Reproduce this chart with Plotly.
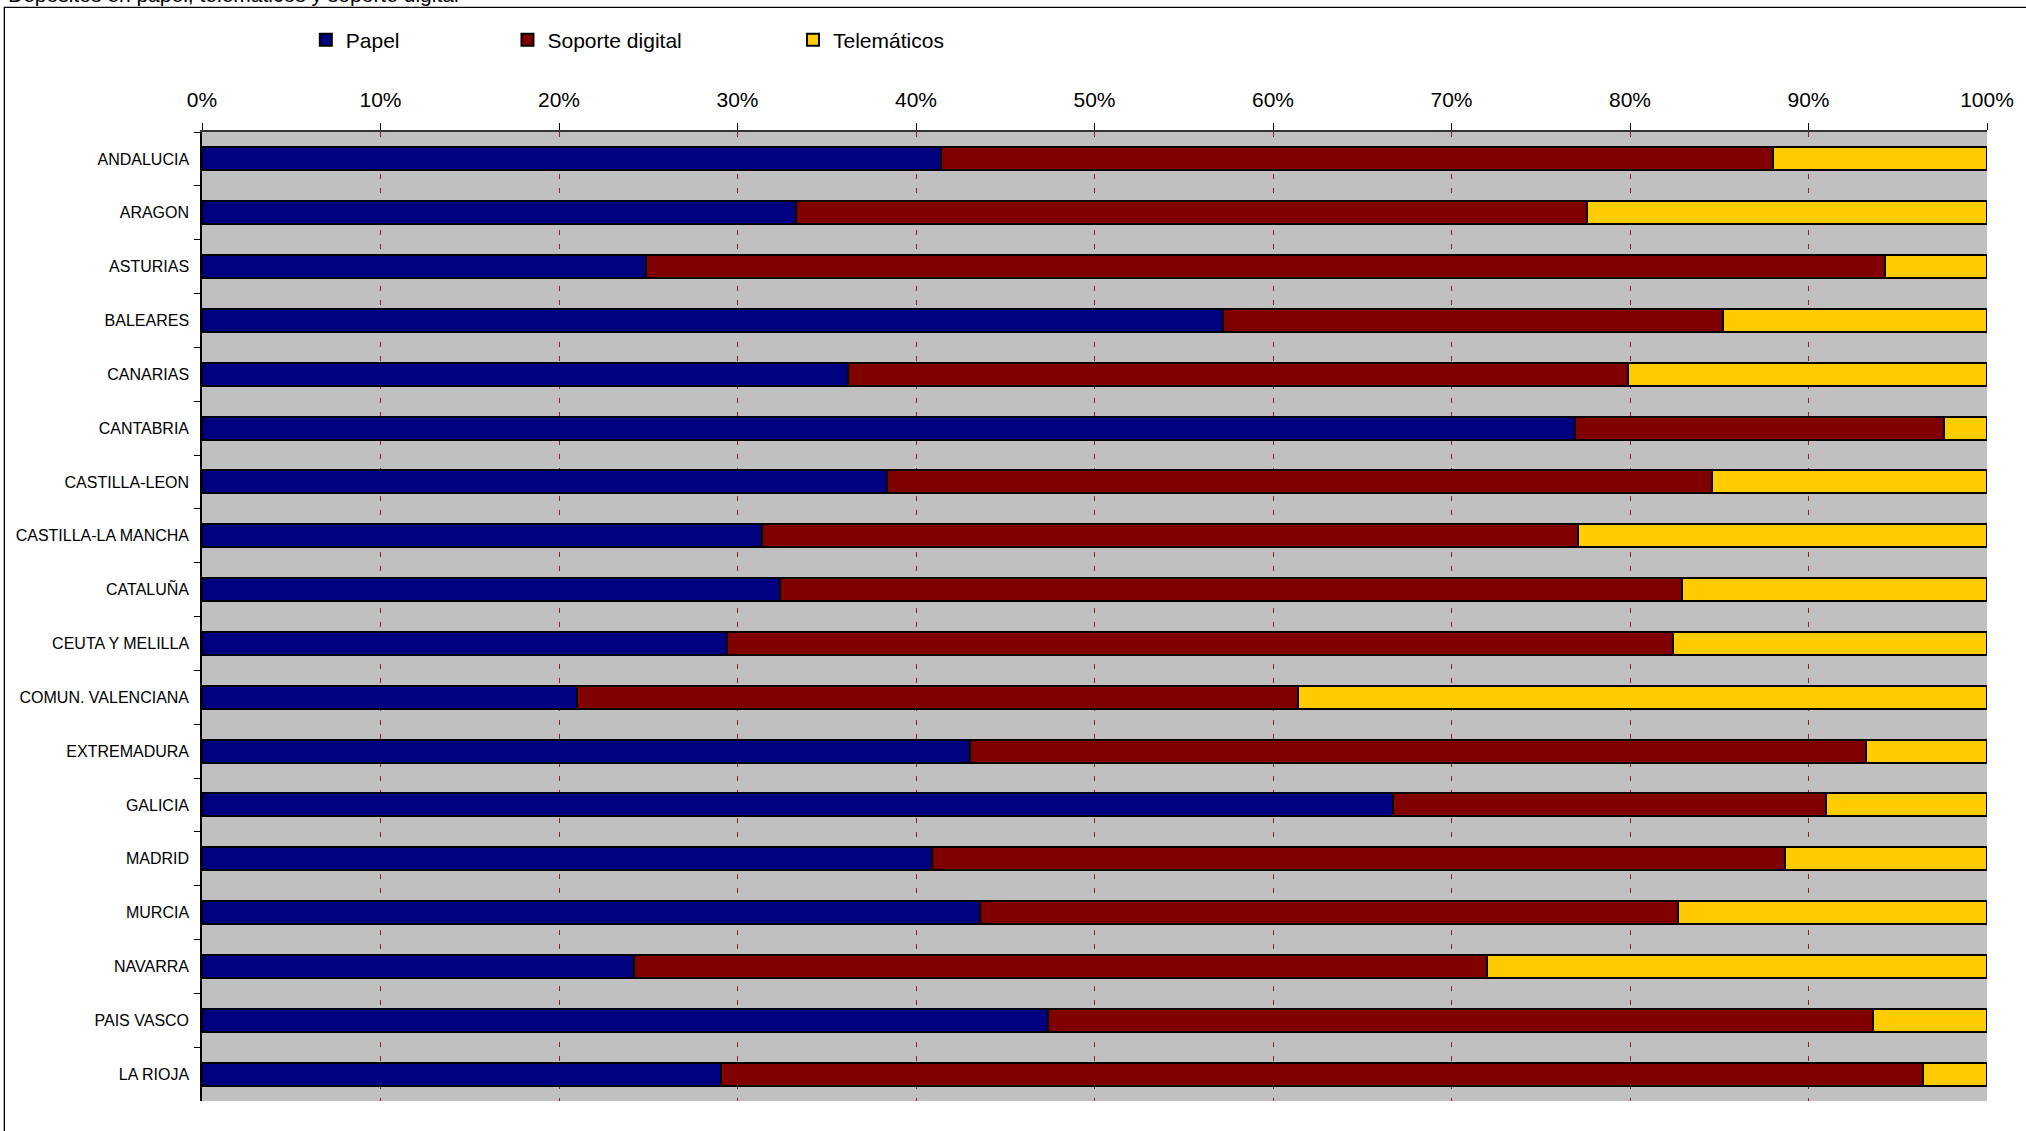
import plotly.graph_objects as go

categories = ["ANDALUCIA", "ARAGON", "ASTURIAS", "BALEARES", "CANARIAS", "CANTABRIA",
              "CASTILLA-LEON", "CASTILLA-LA MANCHA", "CATALUÑA", "CEUTA Y MELILLA",
              "COMUN. VALENCIANA", "EXTREMADURA", "GALICIA", "MADRID", "MURCIA",
              "NAVARRA", "PAIS VASCO", "LA RIOJA"]

# shares in percent
papel = [41.4, 33.3, 24.9, 57.2, 36.2, 76.9, 38.4, 31.4, 32.4, 29.4,
         21.0, 43.0, 66.7, 40.9, 43.6, 24.2, 47.4, 29.1]
soporte_digital = [46.6, 44.3, 69.4, 28.0, 43.7, 20.7, 46.2, 45.7, 50.5, 53.0,
                   40.4, 50.2, 24.3, 47.8, 39.1, 47.8, 46.2, 67.3]
telematicos = [12.0, 22.4, 5.7, 14.8, 20.1, 2.4, 15.4, 22.9, 17.1, 17.6,
               38.6, 6.8, 9.0, 11.3, 17.3, 28.0, 6.4, 3.6]

series_names = ["Papel", "Soporte digital", "Telemáticos"]
series_values = [papel, soporte_digital, telematicos]
colors = ["#000080", "#800000", "#FFCC00"]
legend_ids = ["legend", "legend2", "legend3"]

W, H = 2026, 1131
L, R, T, B = 202, 36, 132, 30
pw, ph = W - L - R, H - T - B

def px_x(x):
    return (x - L) / pw

def px_y(y):
    return 1 + (T - y) / ph

FONT = "Arial, Liberation Sans, sans-serif"

fig = go.Figure()
for name, vals, col, lg in zip(series_names, series_values, colors, legend_ids):
    fig.add_trace(go.Bar(
        y=categories, x=[v / 100 for v in vals], name=name, orientation="h",
        marker=dict(color=col, line=dict(color="#000000", width=2)),
        legend=lg,
    ))

legend_x = [306, 508, 794]
legend_common = dict(orientation="h", yanchor="middle", xanchor="left",
                     y=px_y(40), font=dict(family=FONT, size=21, color="#000000"),
                     bgcolor="rgba(0,0,0,0)", itemwidth=30)

fig.update_layout(
    width=W, height=H,
    margin=dict(l=L, r=R, t=T, b=B),
    paper_bgcolor="#FFFFFF",
    plot_bgcolor="#C0C0C0",
    barmode="stack",
    bargap=0.57,
    showlegend=True,
    legend=dict(x=px_x(legend_x[0]), **legend_common),
    legend2=dict(x=px_x(legend_x[1]), **legend_common),
    legend3=dict(x=px_x(legend_x[2]), **legend_common),
    font=dict(family=FONT, color="#000000"),
    xaxis=dict(
        side="top", range=[0, 1], dtick=0.1, tick0=0, tickformat=".0%",
        showgrid=True, gridcolor="#8B2323", griddash="5px,9px", gridwidth=1,
        zeroline=False,
        showline=True, linecolor="#333333", linewidth=1.5,
        ticks="outside", ticklen=7, tickcolor="#000000", tickwidth=1,
        tickfont=dict(family=FONT, size=21, color="#000000"),
        ticklabelstandoff=8,
        fixedrange=True,
    ),
    yaxis=dict(
        autorange="reversed", type="category",
        tickson="boundaries", ticks="outside", ticklen=6, tickcolor="#000000",
        showgrid=False, showline=True, linecolor="#000000", linewidth=1.5,
        tickfont=dict(family=FONT, size=16, color="#000000"),
        ticklabelstandoff=8,
    ),
    shapes=[dict(type="rect", xref="paper", yref="paper",
                 x0=px_x(4), x1=1.2, y0=-0.2, y1=px_y(7.3),
                 line=dict(color="#000000", width=1.3), fillcolor="rgba(0,0,0,0)",
                 layer="above")],
    annotations=[dict(text="Depósitos en papel, telemáticos y soporte digital",
                      xref="paper", yref="paper", x=px_x(6), y=px_y(8),
                      xanchor="left", yanchor="bottom", showarrow=False,
                      font=dict(family=FONT, size=21, color="#000000"))],
)

fig.write_html("out.html", config={"displayModeBar": False},
               post_script="document.body.style.margin='0px';")
